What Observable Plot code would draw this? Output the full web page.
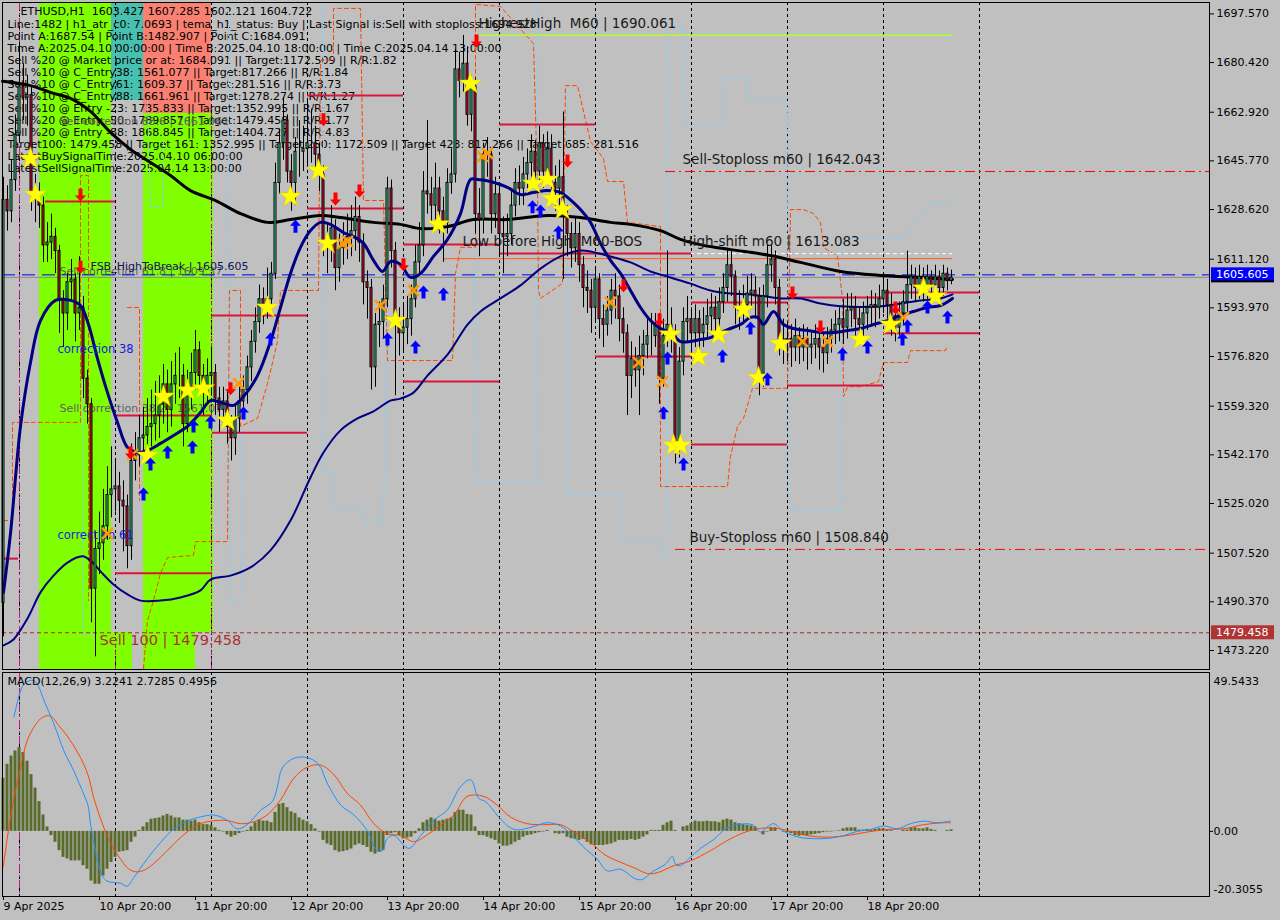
<!DOCTYPE html>
<html><head><meta charset="utf-8">
<script src="https://cdn.jsdelivr.net/npm/d3@7"></script>
<script src="https://cdn.jsdelivr.net/npm/@observablehq/plot@0.6"></script>
<style>
html,body{margin:0;padding:0;background:#c0c0c0;overflow:hidden;}
#wrap{position:relative;width:1280px;height:920px;overflow:hidden;background:#c0c0c0;}
#main{position:absolute;left:0;top:0;}
#macd{position:absolute;left:0;top:670px;}
svg{font-family:"DejaVu Sans",sans-serif;}
</style></head><body><div id="wrap"><div id="main"></div><div id="macd"></div></div>
<script>
// ---------------- DATA ----------------
const firstOpen = 1490;
const close = [1632,1628,1639,1655,1672,1668,1669,1634,1632,1630,
1616,1617,1619,1614,1597,1592,1603,1604,1592,1594,
1569,1560,1495,1509,1511,1517,1528,1530,1531,1526,
1524,1510,1540,1542,1548,1549,1552,1553,1556,1560,
1567,1558,1567,1570,1570,1553,1566,1571,1579,1570,
1564,1570,1571,1562,1558,1561,1552,1548,1555,1561,
1565,1573,1582,1589,1597,1594,1597,1606,1638,1652,
1660,1642,1638,1649,1649,1650,1652,1652,1648,1641,
1617,1615,1622,1608,1615,1617,1619,1621,1626,1617,
1603,1601,1573,1588,1589,1597,1636,1614,1588,1585,
1587,1590,1597,1610,1616,1635,1634,1630,1636,1628,
1624,1638,1641,1678,1674,1680,1662,1672,1627,1625,
1648,1648,1627,1634,1620,1619,1620,1630,1638,1636,
1641,1645,1649,1642,1652,1642,1650,1638,1636,1640,
1626,1620,1615,1620,1609,1601,1600,1594,1604,1590,
1588,1593,1600,1598,1590,1585,1570,1576,1572,1577,
1581,1584,1584,1588,1569,1584,1588,1584,1547,1575,
1589,1590,1585,1590,1585,1588,1591,1594,1590,1596,
1601,1609,1605,1594,1593,1595,1599,1600,1598,1570,
1598,1609,1611,1601,1583,1582,1583,1580,1584,1580,
1583,1580,1581,1583,1580,1578,1583,1586,1588,1590,
1587,1593,1594,1590,1588,1592,1594,1595,1594,1597,
1600,1595,1591,1587,1592,1596,1602,1605,1601,1605,
1601,1605,1602,1605,1601,1606,1603.4,1604.722];
const high = [1640,1637,1646,1662,1687.5,1680,1676,1672,1641,1638,
1633,1624,1627,1622,1616,1600,1606,1611,1606,1612,
1598,1572,1562,1515,1522,1530,1538,1545,1540,1536,
1533,1528,1546,1550,1556,1559,1562,1565,1568,1570,
1574,1572,1575,1578,1580,1574,1572,1578,1586,1582,
1574,1576,1580,1574,1566,1566,1565,1556,1560,1566,
1570,1577,1586,1594,1602,1601,1608,1610,1645,1657,
1668,1662,1648,1654,1660,1658,1667,1664,1658,1652,
1644,1623,1630,1625,1620,1624,1627,1630,1633,1630,
1620,1607,1604,1592,1596,1602,1640,1639,1617,1594,
1595,1598,1602,1616,1624,1642,1660,1640,1645,1640,
1633,1643,1650,1685,1684,1690,1686,1676,1675,1636,
1652,1654,1650,1640,1637,1626,1627,1636,1643,1644,
1647,1650,1655,1653,1658,1655,1656,1655,1644,1646,
1663,1630,1624,1626,1624,1612,1607,1604,1608,1606,
1595,1598,1604,1606,1602,1594,1588,1582,1580,1584,
1586,1590,1592,1592,1592,1590,1614,1594,1588,1580,
1594,1598,1594,1595,1593,1594,1597,1599,1598,1601,
1606,1615,1614,1607,1600,1602,1605,1606,1605,1601,
1602,1616,1616,1614,1604,1590,1589,1588,1590,1587,
1588,1587,1586,1588,1587,1585,1587,1590,1593,1594,
1597,1599,1599,1598,1594,1596,1598,1600,1599,1602,
1606,1604,1599,1594,1596,1600,1614,1609,1608,1609,
1608,1609,1607,1609,1607,1609,1608,1607.285];
const low = [1478,1621,1624,1635,1652,1660,1658,1628,1624,1622,
1610,1610,1611,1606,1585,1580,1586,1596,1582,1586,
1562,1553,1483,1471,1500,1505,1512,1520,1522,1518,
1508,1502,1505,1533,1538,1541,1543,1545,1547,1548,
1553,1550,1552,1560,1562,1545,1550,1558,1565,1564,
1556,1560,1563,1556,1550,1552,1546,1540,1542,1550,
1556,1560,1568,1578,1585,1588,1590,1592,1604,1634,
1646,1638,1628,1630,1640,1642,1644,1645,1640,1635,
1612,1606,1610,1600,1603,1609,1611,1612,1614,1610,
1595,1590,1565,1566,1580,1583,1594,1608,1563,1577,
1578,1581,1584,1594,1606,1612,1627,1624,1625,1620,
1610,1620,1634,1638,1668,1670,1658,1656,1620,1612,
1620,1640,1620,1622,1612,1606,1612,1616,1626,1630,
1630,1636,1640,1636,1638,1636,1638,1632,1628,1630,
1604,1612,1608,1610,1603,1594,1592,1585,1589,1583,
1580,1584,1588,1590,1582,1578,1556,1562,1566,1556,
1570,1576,1577,1580,1560,1566,1580,1578,1539,1541,
1570,1582,1578,1580,1578,1580,1583,1585,1584,1586,
1592,1596,1598,1588,1586,1588,1590,1594,1590,1563,
1566,1594,1603,1595,1577,1574,1575,1573,1575,1574,
1575,1572,1574,1576,1572,1571,1574,1578,1581,1582,
1581,1583,1587,1584,1582,1583,1586,1588,1587,1590,
1592,1590,1584,1582,1584,1588,1592,1597,1596,1597,
1596,1597,1597,1598,1597,1598,1600,1602.121];

const macdHist = [16.6,20.9,23.5,25.1,26.1,24.6,21.9,17.7,13.5,9.3,5.1,1.4,
-1.3,-3.4,-6.0,-8.1,-8.6,-9.2,-9.2,-9.2,-10.7,-11.8,-15.5,-16.5,
-16.5,-13.9,-11.8,-9.7,-8.1,-6.5,-6.3,-6.0,-3.4,-1.8,0.3,1.4,
2.7,3.8,4.0,4.2,4.8,5.3,4.8,4.2,4.2,3.5,3.5,3.2,
3.5,2.7,2.1,2.1,1.9,1.1,0.3,-0.2,-1.1,-1.8,-1.3,-0.7,
-0.2,0.3,1.4,2.7,3.5,3.2,3.2,2.7,5.9,8.4,8.7,7.4,
6.1,5.6,4.2,3.5,3.0,2.1,0.8,-0.2,-2.8,-3.9,-4.4,-6.0,
-6.5,-6.3,-6.0,-5.5,-4.4,-3.9,-4.4,-5.0,-6.5,-7.1,-6.5,-6.0,
-1.3,-0.7,-0.4,-1.3,-2.3,-2.1,-1.8,-0.7,0.8,2.7,3.5,4.2,
3.8,3.2,3.5,3.8,4.2,5.9,6.6,6.6,5.3,5.1,1.4,-1.3,
-1.3,-1.8,-2.3,-2.8,-3.9,-4.6,-4.6,-4.2,-3.4,-2.8,-1.8,-1.3,
-1.1,-0.7,-0.4,-0.2,0.3,0,-0.7,-0.9,-0.7,-1.8,-2.3,-2.5,
-2.8,-2.5,-3.4,-4.2,-4.4,-4.4,-4.4,-4.2,-3.9,-3.4,-2.8,-2.8,
-2.8,-2.5,-2.8,-2.5,-1.8,-1.1,0.3,0.3,0.3,1.9,2.7,3.2,
0.3,0,1.4,1.7,2.4,3.2,3.0,3.0,3.2,3.0,3.0,2.7,
3.5,3.8,3.5,2.7,2.4,2.1,1.9,1.7,1.4,0,-1.1,-0.2,
1.1,1.1,0,-0.2,-0.4,-0.7,-1.3,-1.5,-1.3,-1.3,-1.1,-0.9,
-0.7,-0.4,-0.2,-0.2,0.1,0.2,0.8,1.1,1.1,1.1,0.4,0.4,
0.6,0.4,0.6,0.8,0.8,0.4,0.2,0,0,0.4,0.4,1.1,
1.1,0.8,0.8,1.1,0.6,0.3,0,0,0.3,0.5];

const macdLine = [[2.6,35.6],[3.8,41.9],[4.7,45.1],[5.9,46.7],[7.6,47.0],[8.8,45.1],[10.1,40.9],[12.6,33.5],[15.1,25.1],[17.6,18.8],[20.1,11.4],[21.1,8.2],[21.8,1.9],[22.6,-3.4],[23.6,-9.7],[24.7,-13.9],[25.9,-15.5],[29.3,-16.2],[30.9,-17.1],[32.6,-14.4],[35.9,-8.6],[39.3,-3.4],[42.6,0.8],[45.9,3.2],[49.3,4.5],[52.6,5.1],[55.9,3.5],[58.4,0.8],[60.9,2.1],[64.3,6.6],[67.2,9.3],[68.4,13.5],[69.7,19.8],[72.6,22.8],[75.9,23.0],[78.8,20.9],[80.9,15.1],[84.3,8.2],[87.6,5.1],[90.9,0.3],[93.4,-6.0],[94.7,-6.0],[95.9,-2.3],[97.6,-1.3],[101.3,-5.3],[104.3,-1.3],[107.6,3.5],[110.9,6.6],[114.3,14.0],[116.8,16.1],[118.8,10.3],[120.5,9.3],[123.8,4.5],[126.75,1.1],[128.8,0.5],[132.2,1.4],[135.9,2.7],[139.25,1.7],[142.6,-1.8],[145.5,-5.5],[148.4,-8.6],[150.9,-12.3],[154.25,-11.8],[158.0,-14.8],[159.7,-15.0],[162.2,-12.6],[165.5,-10.2],[167.2,-7.8],[168.0,-10.2],[169.25,-10.7],[171.3,-8.6],[174.25,-5.3],[177.6,-2.5],[180.5,0.8],[183.4,2.1],[187.2,2.1],[189.25,-0.2],[191.3,1.7],[192.6,2.4],[195.1,0],[198.8,-1.8],[203.4,-2.3],[206.75,-2.1],[210.1,-1.3],[213.4,0],[216.75,0.6],[220.1,1.7],[223.4,0.8],[226.75,2.4],[230.1,3.2],[233.4,2.7],[236.75,3.2]];
const signalLine = [[-0.1,-11.3],[1.3,0.8],[2.6,10.3],[4.25,19.8],[5.9,28.2],[7.6,32.5],[9.25,35.1],[10.9,36.1],[12.2,35.6],[13.8,33.0],[15.9,29.8],[19.25,23.0],[21.1,17.7],[22.6,10.3],[24.25,4.0],[25.9,-1.3],[27.6,-5.5],[29.25,-8.6],[30.9,-11.3],[32.6,-12.5],[34.25,-12.5],[35.9,-11.6],[39.25,-8.1],[42.6,-3.9],[45.9,-0.2],[49.25,2.4],[52.6,3.3],[55.9,3.4],[59.25,2.4],[62.6,3.0],[65.9,5.1],[69.25,9.8],[72.6,16.6],[75.9,20.0],[79.25,20.7],[82.6,17.7],[85.9,11.9],[89.25,8.2],[92.6,2.4],[95.9,-0.7],[99.25,-1.3],[102.6,-3.2],[105.9,-1.1],[109.25,1.9],[112.6,5.1],[115.9,10.9],[120.1,10.9],[123.4,8.2],[126.75,4.5],[130.9,2.4],[135.9,2.1],[139.25,2.1],[142.6,-0.2],[146.75,-3.4],[150.1,-7.1],[153.4,-9.2],[157.6,-11.3],[160.9,-13.1],[163.4,-12.9],[167.6,-10.7],[171.75,-9.2],[176.75,-6.0],[181.75,-2.3],[186.75,0.3],[191.75,1.1],[195.9,0.3],[200.9,-1.3],[205.9,-1.8],[210.9,-1.3],[215.9,-0.2],[220.9,0.6],[225.1,0.8],[230.1,2.1],[235.1,2.7],[236.75,2.7]];

const maLong = [[-0.25,1673.8],[6.75,1672.3],[11.75,1669.9],[16.75,1667.8],[21.75,1663.2],[26.75,1655.8],[31.75,1649.8],[36.75,1645.2],[41.75,1640.6],[46.75,1635.3],[53,1631.8],[59.25,1627.2],[66,1624.1],[71.75,1625.1],[79.25,1626.5],[84.25,1625.8],[92.5,1624.1],[99.25,1623.4],[104.25,1621.9],[111,1622.6],[117.5,1625.1],[126,1625.1],[136,1626.5],[144.25,1625.8],[151.75,1624.1],[156.75,1623.4],[164.25,1621.2],[169.25,1618.1],[175,1616.0],[181.75,1614.5],[191.75,1612.4],[199.25,1610.0],[209.25,1606.8],[219.25,1605.4],[229.25,1604.7],[237.25,1604.0]];
const maFast = [[0,1493.7],[1.75,1514.5],[4.25,1552.2],[6.75,1574.7],[9.25,1589.5],[13,1596.6],[16.75,1596.6],[19.25,1594.8],[21.25,1588.1],[23.5,1576.1],[26,1564.1],[28.5,1553.6],[31,1544.8],[33.5,1543.0],[36,1543.7],[39.25,1546.2],[42.5,1549.0],[46,1552.2],[49.25,1557.1],[51.75,1561.3],[55,1560.3],[57.5,1559.6],[60,1562.7],[63.5,1570.1],[66.75,1582.1],[69.25,1594.1],[71.75,1606.1],[74.25,1615.3],[76.75,1621.2],[79.25,1624.1],[81.75,1623.4],[85,1620.5],[87.5,1619.1],[90,1616.7],[92.5,1610.7],[94.75,1606.8],[96.75,1610.3],[99.25,1609.3],[101.75,1604.7],[104.25,1606.1],[107.5,1612.1],[111,1618.1],[114.25,1627.2],[116.75,1639.2],[118.5,1639.2],[121.75,1638.5],[126,1636.4],[129.25,1633.9],[132.5,1634.6],[136,1635.3],[139.25,1634.6],[142.5,1631.1],[144.25,1628.6],[146.75,1624.1],[149.25,1616.7],[151.75,1610.7],[154.25,1606.1],[156.75,1600.1],[159.25,1594.1],[161.75,1589.5],[164.25,1586.7],[166.75,1585.3],[169.25,1582.1],[171.75,1582.1],[174.25,1582.8],[176.75,1583.5],[179.25,1585.3],[181.75,1586.7],[184.25,1588.1],[186.75,1590.6],[188.5,1590.6],[190,1588.1],[192.5,1592.7],[195,1588.1],[197.5,1586.7],[201,1586.0],[204.25,1585.3],[207.5,1585.3],[211,1586.0],[214.25,1586.7],[217.5,1588.1],[221,1589.5],[224.25,1591.3],[227.5,1592.7],[231,1594.1],[234.25,1594.8],[237.25,1597.3]];
const maSlow = [[0,1475.0],[2.5,1477.1],[6,1484.5],[9.25,1493.7],[12.5,1499.6],[16,1504.2],[19.75,1506.4],[21.75,1504.9],[24.25,1501.1],[27.5,1496.5],[31,1493.0],[34.25,1490.8],[39.25,1490.8],[44.25,1491.9],[49.25,1494.4],[51.75,1498.2],[56.75,1499.6],[61.75,1502.5],[66.75,1508.5],[71.75,1519.0],[76.75,1534.2],[80,1543.0],[84.25,1550.8],[88.5,1555.0],[92.5,1557.5],[96.75,1561.3],[99.25,1562.0],[102.5,1564.1],[106,1570.1],[111,1577.5],[116,1588.1],[119.25,1592.7],[124.25,1597.3],[129.25,1601.9],[134.25,1607.8],[139.25,1612.1],[144.25,1614.2],[151.75,1612.1],[156.75,1610.0],[161.75,1606.8],[166.75,1604.7],[171.75,1602.5],[176.75,1600.1],[181.75,1599.0],[186.75,1598.7],[194.25,1597.3],[199.25,1597.3],[204.25,1595.5],[209.25,1594.5],[219.25,1594.5],[224.25,1595.5],[229.25,1596.6],[234.25,1597.3],[237.25,1598.7]];

const orangePaths = [
 [[0,1519.0],[2.25,1519.0],[2.25,1553.6],[19.25,1553.6],[19.25,1640.6],[21.25,1640.6],[21.25,1490.8]],
 [[31,1594.1],[34,1594.1],[34,1526.1]],
 [[35,1466.9],[36,1483.8],[37.5,1490.8],[39.25,1500.4],[41,1506.0],[47.5,1506.7],[48,1511.6],[56,1511.6],[56.5,1600.1],[59.25,1600.1],[59.25,1552.2],[63.5,1555.0],[66,1567.3],[68.5,1582.1],[69.25,1600.1],[78.75,1600.1],[79.25,1681.2],[82.5,1681.2],[82.5,1699.5],[89.25,1699.5],[90,1631.8],[95,1631.8],[96,1575.4],[112.25,1575.4],[113,1606.1],[114.25,1615.3],[118,1615.3],[118,1700.9],[124.25,1700.2],[132.5,1687.1],[133.5,1637.8],[133.75,1600.1],[134.25,1597.3],[139.75,1602.6],[140.5,1672.3],[143.5,1672.3],[146.75,1652.6],[150,1646.6],[151,1638.5],[155,1638.5],[156,1624.1],[164.25,1622.6],[164.25,1531.0],[181,1531.0],[181.75,1541.6],[183.5,1552.2],[185,1555.0],[187.25,1565.6],[196,1565.6],[196.75,1628.6],[200,1628.6],[202.5,1627.2],[204.25,1624.1],[205,1615.3],[208.5,1612.1],[209.75,1597.3],[210,1562.7],[211,1566.2],[214.25,1566.2],[218.75,1568.0],[220,1574.7],[226,1574.7],[226.75,1578.9],[235.5,1578.9],[236,1580.7]]
];
const bluePaths = [
 [[19.75,1606.1],[19.75,1478.5],[23.5,1478.5]],
 [[36,1667.1],[36.75,1629.4],[40,1629.4],[40,1653.0]],
 [[56.25,1698.8],[56.25,1596.6],[56.75,1490.8],[59.25,1490.8],[59.25,1550.8]],
 [[80,1700.5],[80,1535.6],[82.5,1535.6],[82.5,1523.6],[88.5,1523.6],[90,1518.3],[95,1518.3],[96,1604.7]],
 [[118,1700.5],[118,1532.8],[133.5,1532.8],[133.5,1700.5]],
 [[141,1672.3],[141,1528.2],[154.25,1528.2],[154.25,1512.3],[163.75,1512.3],[164.25,1507.1],[166,1507.1],[166,1693.1],[170,1693.1],[170,1658.6],[180,1658.6],[180,1674.4],[186,1674.4],[186,1667.8],[196,1667.8],[196.25,1528.2],[197.5,1522.2],[209.25,1522.2],[209.25,1610.7],[210,1618.1],[225,1618.1],[231,1631.1],[237.25,1631.1]]
];

const levels = [
 {i1:10.5,i2:28,p:1631.5},{i1:-0.25,i2:3.75,p:1505.6},
 {i1:28,i2:52.25,p:1556.0},{i1:28,i2:52.25,p:1500.4},
 {i1:52.25,i2:76,p:1591.3},{i1:52.25,i2:76,p:1550.0},
 {i1:76,i2:100,p:1629.0},{i1:76,i2:100,p:1668.8},
 {i1:100,i2:124,p:1616.3},{i1:100,i2:124,p:1568.0},
 {i1:124,i2:148,p:1658.6},{i1:124,i2:172,p:1613.1},
 {i1:148,i2:172,p:1576.8},
 {i1:172,i2:196,p:1595.9},{i1:172,i2:196,p:1545.8},
 {i1:196,i2:220,p:1597.6},{i1:196,i2:220,p:1566.6},
 {i1:220,i2:244,p:1599.4},{i1:220,i2:244,p:1585.0}
];

const stars = [[6.75,1646.6],[8,1633.9],[36,1541.9],[40,1562.7],[46,1564.9],[50,1565.6],[56,1554.3],[66,1594.1],[71.75,1633.2],[78.75,1642.4],[81,1616.7],[98,1589.5],[108.75,1623.4],[116.75,1673.0],[132.5,1637.8],[136,1639.2],[137.25,1632.5],[139.75,1628.6],[166.75,1584.6],[167.5,1545.5],[169.25,1545.5],[173.75,1576.8],[178.75,1584.6],[185,1593.4],[188.75,1569.4],[194.25,1581.4],[214.25,1582.8],[221.75,1588.1],[230,1600.8],[233,1598.0]];
const buyArrows = [[35,1528.2],[36.75,1538.8],[41,1543.0],[47.25,1544.8],[47.5,1552.2],[51.75,1553.6],[60,1556.7],[66.75,1582.8],[73,1622.6],[96,1582.8],[103,1580.0],[105,1599.4],[110,1598.7],[132.25,1629.4],[134.25,1627.9],[138.75,1620.5],[165,1556.8],[166,1576.1],[170,1538.8],[179.75,1576.8],[186.75,1586.7],[191,1568.7],[209.75,1577.5],[216,1580.0],[224.75,1582.8],[226,1587.4],[231,1594.1],[236,1590.6]];
const sellArrows = [[19.25,1633.9],[19.25,1608.5],[31.75,1543.0],[56.75,1565.6],[80,1660.4],[83,1632.5],[89,1635.3],[100,1609.3],[118.25,1688.2],[141,1645.9],[155,1601.9],[164,1589.9],[197.25,1599.4],[204.25,1587.4],[223,1594.1]];
const crosses = [[26,1514.5],[32.25,1542.3],[58.75,1567.3],[84.75,1616.7],[86,1617.4],[94.25,1594.8],[102.5,1600.1],[119.75,1647.3],[121,1648.4],[151.75,1595.9],[158.75,1574.7],[164.75,1568.0],[199.75,1582.1],[206,1582.1],[225,1590.6]];

const priceTicks = [1697.57,1680.42,1662.92,1645.77,1628.62,1611.12,1593.97,1576.82,1559.32,1542.17,1525.02,1507.52,1490.37,1473.22];
const dayTicks = [0,24,48,72,96,120,144,168,192,216];
const dayLabels = ["9 Apr 2025","10 Apr 20:00","11 Apr 20:00","12 Apr 20:00","13 Apr 20:00","14 Apr 20:00","15 Apr 20:00","16 Apr 20:00","17 Apr 20:00","18 Apr 20:00"];
const midnights = [4,28,52,76,100,124,148,172,196,220,244];

const headerLine = "ETHUSD,H1  1603.427 1607.285 1602.121 1604.722";
const infoLines = [
 "Line:1482 | h1_atr_c0: 7.0693 | tema_h1_status: Buy | Last Signal is:Sell with stoploss:1694.928",
 "Point A:1687.54 | Point B:1482.907 | Point C:1684.091",
 "Time A:2025.04.10 00:00:00 | Time B:2025.04.10 18:00:00 | Time C:2025.04.14 13:00:00",
 "Sell %20 @ Market price or at: 1684.091 || Target:1172.509 || R/R:1.82",
 "Sell %10 @ C_Entry38: 1561.077 || Target:817.266 || R/R:1.84",
 "Sell %10 @ C_Entry61: 1609.37 || Target:281.516 || R/R:3.73",
 "Sell %10 @ C_Entry88: 1661.961 || Target:1278.274 || R/R:1.27",
 "Sell %10 @ Entry -23: 1735.833 || Target:1352.995 || R/R:1.67",
 "Sell %20 @ Entry -50: 1789.857 || Target:1479.458 || R/R:1.77",
 "Sell %20 @ Entry -88: 1868.845 || Target:1404.727 || R/R:4.83",
 "Target100: 1479.458 || Target 161: 1352.995 || Target 250: 1172.509 || Target 423: 817.266 || Target 685: 281.516",
 "LatestBuySignalTime:2025.04.10 06:00:00",
 "LatestSellSignalTime:2025.04.14 13:00:00"
];
const levelLabels = [
 {i:118.75,p:1690.061,text:"HighestHigh  M60 | 1690.061"},
 {i:169.75,p:1642.043,text:"Sell-Stoploss m60 | 1642.043"},
 {i:169.75,p:1613.083,text:"High-shift m60 | 1613.083"},
 {i:114.75,p:1613.1,text:"Low before High  M60-BOS"},
 {i:171.5,p:1508.840,text:"Buy-Stoploss m60 | 1508.840"}
];
const ghostTexts = [
 {i:14,p:1661.961,text:"Sell correction 88.6 | 1661.961"},
 {i:14,p:1609.37,text:"Sell correction 61.8 | 1609.37"},
 {i:14,p:1561.077,text:"Sell correction 38.2 | 1561.077"}
];
const corrTexts = [{i:13.5,p:1579.3,text:"correction 38"},{i:13.5,p:1513.7,text:"correction 61"}];

// ---------------- BUILD ----------------
const xDom = [-0.25, 301.5];
const yMin = 1466.52, yMax = 1701.59;
const bars = close.map((c, i) => ({i, o: i === 0 ? firstOpen : close[i - 1], h: high[i], l: low[i], c}));
bars[237].o = 1603.427;
const pts = a => a.map(([i, p]) => ({i, p}));
const flat = paths => paths.flatMap((s, k) => s.map(([i, p]) => ({i, p, k})));

const upSym = {draw(ctx){ctx.moveTo(0,-7);ctx.lineTo(5.5,-1);ctx.lineTo(2,-1);ctx.lineTo(2,6);ctx.lineTo(-2,6);ctx.lineTo(-2,-1);ctx.lineTo(-5.5,-1);ctx.closePath();}};
const downSym = {draw(ctx){ctx.moveTo(0,7);ctx.lineTo(5.5,1);ctx.lineTo(2,1);ctx.lineTo(2,-6);ctx.lineTo(-2,-6);ctx.lineTo(-2,1);ctx.lineTo(-5.5,1);ctx.closePath();}};

const zonesGreen = [{i1:9,i2:27,p1:yMin,p2:yMax},{i1:27,i2:32.25,p1:yMin,p2:1479.5},{i1:35,i2:52.5,p1:1479.5,p2:1662.5},{i1:35,i2:48,p1:yMin,p2:1479.5}];
const zoneTeal = [{i1:27,i2:35,p1:1667.1,p2:yMax}];
const zoneSalmon = [{i1:35,i2:52,p1:1662.5,p2:yMax}];

const main = Plot.plot({
  width: 1280, height: 670,
  marginLeft: 2, marginRight: 71, marginTop: 2, marginBottom: 1,
  style: {background: "#c0c0c0", fontFamily: "DejaVu Sans", fontSize: "11px", color: "#000", overflow: "visible"},
  x: {type: "linear", domain: xDom, axis: null},
  y: {domain: [yMin, yMax], axis: null},
  marks: [
    Plot.rect(zonesGreen, {x1: "i1", x2: "i2", y1: "p1", y2: "p2", fill: "#80ff00"}),
    Plot.rect(zoneTeal, {x1: "i1", x2: "i2", y1: "p1", y2: "p2", fill: "#48c0b0"}),
    Plot.rect(zoneSalmon, {x1: "i1", x2: "i2", y1: "p1", y2: "p2", fill: "#fa8072"}),
    Plot.ruleX(midnights, {stroke: "#000", strokeDasharray: "3,3"}),
    Plot.ruleX([4], {stroke: "#c71585", strokeDasharray: "8,3,2,3"}),
    Plot.ruleX([{i:52,p:1662.5},{i:28,p:1479.5}], {x: "i", y1: yMin, y2: "p", stroke: "#c71585", strokeDasharray: "4,3"}),
    // info text
    Plot.text([headerLine], {frameAnchor: "top-left", dx: 18, dy: 5, fontSize: 11, fill: "#000"}),
    Plot.text([infoLines.join("\n")], {frameAnchor: "top-left", dx: 5, dy: 17, fontSize: 11, lineHeight: 1.09, fill: "#000"}),
    Plot.text(ghostTexts, {x: "i", y: "p", text: "text", dy: 7, textAnchor: "start", fontSize: 11, fill: "#606060"}),
    // dashed channels
    Plot.line(flat(bluePaths), {x: "i", y: "p", z: "k", stroke: "#87cefa", strokeDasharray: "4,3", strokeWidth: 1}),
    Plot.line(flat(orangePaths), {x: "i", y: "p", z: "k", stroke: "#ff4500", strokeDasharray: "4,3", strokeWidth: 1}),
    // horizontal lines
    Plot.ruleY([1479.458], {stroke: "#a52a2a", strokeDasharray: "4,3"}),
    Plot.ruleY([{p:1642.043,i1:165.5},{p:1508.84,i1:168}], {y: "p", x1: "i1", x2: xDom[1], stroke: "#ff0000", strokeDasharray: "10,4,2,4"}),
    Plot.ruleY([{p:1690.061,i1:118.75,i2:237.25}], {y: "p", x1: "i1", x2: "i2", stroke: "#adff2f", strokeWidth: 1.5}),
    Plot.ruleY([{p:1611.3,i1:110,i2:237.25}], {y: "p", x1: "i1", x2: "i2", stroke: "#ff5a1a", strokeWidth: 1}),
    Plot.ruleY([{p:1613.083,i1:170,i2:237.25}], {y: "p", x1: "i1", x2: "i2", stroke: "#ffffff", strokeDasharray: "4,3"}),
    Plot.ruleY(levels, {y: "p", x1: "i1", x2: "i2", stroke: "#dc143c", strokeWidth: 2}),
    Plot.ruleY([1604.722], {stroke: "#8a8a8a"}),
    Plot.ruleY([1605.605], {stroke: "#0000ff", strokeDasharray: "13,7"}),
    // moving averages
    Plot.line(pts(maSlow), {x: "i", y: "p", stroke: "#000080", strokeWidth: 2, curve: "catmull-rom"}),
    Plot.line(pts(maLong), {x: "i", y: "p", stroke: "#000000", strokeWidth: 3, curve: "catmull-rom"}),
    // candles
    Plot.ruleX(bars, {x: "i", y1: "l", y2: "h", stroke: "#000"}),
    Plot.rect(bars, {x1: d => d.i - 0.25, x2: d => d.i + 0.25, y1: "o", y2: "c", fill: d => d.c >= d.o ? "#40d08c" : "#dc143c", stroke: "#000", strokeWidth: 1}),
    Plot.line(pts(maFast), {x: "i", y: "p", stroke: "#000080", strokeWidth: 3, curve: "catmull-rom"}),
    // texts
    Plot.text(corrTexts, {x: "i", y: "p", text: "text", textAnchor: "start", fontSize: 11.5, fill: "#1818e0"}),
    Plot.text([{i:21.75,p:1605.605,text:"FSB_HighToBreak | 1605.605"}], {x: "i", y: "p", text: "text", dy: -8, textAnchor: "start", fontSize: 11, fill: "#14145a"}),
    Plot.text(levelLabels, {x: "i", y: "p", text: "text", dy: -11.5, textAnchor: "start", fontSize: 13.5, fill: "#1a1a1a"}),
    Plot.text([{i:24,p:1479.458,text:"Sell 100 | 1479.458"}], {x: "i", y: "p", text: "text", dy: 8, textAnchor: "start", fontSize: 14.5, fill: "#a83232"}),
    // signals
    Plot.dot(pts(crosses), {x: "i", y: "p", symbol: "times", r: 5, stroke: "#ff9a00", strokeWidth: 2.5}),
    Plot.dot(pts(stars), {x: "i", y: "p", symbol: "star", r: 7, fill: "#ffff00", stroke: "#e6c800", strokeWidth: 0.5}),
    Plot.dot(pts(buyArrows), {x: "i", y: "p", symbol: upSym, fill: "#0000ff", stroke: "none"}),
    Plot.dot(pts(sellArrows), {x: "i", y: "p", symbol: downSym, fill: "#ff0000", stroke: "none"}),
    // axis + frame
    Plot.axisY({anchor: "right", ticks: priceTicks, tickFormat: d => d.toFixed(3), tickSize: 4, tickPadding: 3, fontSize: 11, label: null}),
    Plot.frame({stroke: "#000"})
  ]
});
document.getElementById("main").appendChild(main);

function priceTag(plot, value, fill, underline) {
  const y = plot.scale("y").apply(value);
  const x = plot.scale("x").apply(xDom[1]);
  const g = d3.select(plot).append("g");
  g.append("rect").attr("x", x + 2).attr("y", y - 7).attr("width", 63).attr("height", 14).attr("fill", fill);
  if (underline) g.append("rect").attr("x", x + 2).attr("y", y + 6).attr("width", 63).attr("height", 2).attr("fill", "#000");
  g.append("text").attr("x", x + 7).attr("y", y).attr("dy", "0.35em").attr("fill", "#fff")
    .attr("text-anchor", "start").attr("font-size", 11).attr("font-family", "DejaVu Sans").text(value.toFixed(3));
}
priceTag(main, 1605.605, "#0000ff", true);
priceTag(main, 1479.458, "#b03434", false);

const macd = Plot.plot({
  width: 1280, height: 250,
  marginLeft: 2, marginRight: 71, marginTop: 2, marginBottom: 24,
  style: {background: "#c0c0c0", fontFamily: "DejaVu Sans", fontSize: "11px", color: "#000", overflow: "visible"},
  x: {type: "linear", domain: xDom, axis: null, label: null},
  y: {domain: [-20.3055, 49.5433], axis: null, label: null},
  marks: [
    Plot.ruleX(midnights, {stroke: "#000", strokeDasharray: "3,3"}),
    Plot.ruleX([4], {stroke: "#c71585", strokeDasharray: "8,3,2,3"}),
    Plot.rect(macdHist.map((v, i) => ({i, v})), {x1: d => d.i - 0.375, x2: d => d.i + 0.375, y1: 0, y2: "v", fill: "#5a6b2e"}),
    Plot.line(pts(signalLine), {x: "i", y: "p", stroke: "#ff4500", strokeWidth: 1, curve: "catmull-rom"}),
    Plot.line(pts(macdLine), {x: "i", y: "p", stroke: "#1e90ff", strokeWidth: 1, curve: "catmull-rom"}),
    Plot.text(["MACD(12,26,9) 3.2241 2.7285 0.4956"], {frameAnchor: "top-left", dx: 5, dy: 5, fontSize: 11, fill: "#000"}),
    Plot.axisX({ticks: dayTicks, tickFormat: d => dayLabels[dayTicks.indexOf(d)], textAnchor: "start", tickSize: 4, tickPadding: 2, fontSize: 11, label: null}),
    Plot.axisY({anchor: "right", ticks: [0], tickFormat: () => "0.00", tickSize: 3, tickPadding: 1, fontSize: 11, label: null}),
    Plot.text([49.5433], {x: xDom[1], y: d => d, text: d => d.toFixed(4), dx: 4, dy: 9, textAnchor: "start", fontSize: 11}),
    Plot.text([-20.3055], {x: xDom[1], y: d => d, text: d => d.toFixed(4), dx: 4, dy: -7, textAnchor: "start", fontSize: 11}),
    Plot.frame({stroke: "#000"})
  ]
});
document.getElementById("macd").appendChild(macd);
</script></body></html>
